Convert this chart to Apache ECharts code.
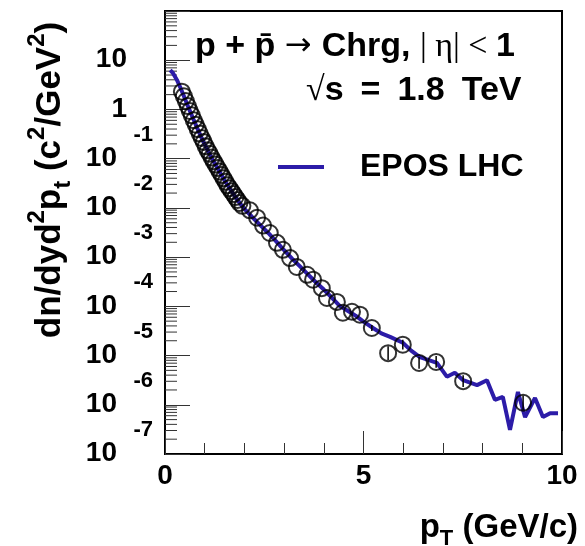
<!DOCTYPE html>
<html><head><meta charset="utf-8">
<script src="https://cdn.jsdelivr.net/npm/echarts@6/dist/echarts.min.js"></script>
<style>html,body{margin:0;padding:0;background:#fff}#c{width:585px;height:546px}</style>
</head><body><div id="c"></div>
<script>
// Data points (open circles): pT (GeV/c) and dn/dyd2pt
const pointsPt = [0.425,0.475,0.525,0.575,0.625,0.675,0.725,0.775,0.825,0.875,0.925,0.975,1.025,1.075,1.125,1.175,1.225,1.275,1.325,1.375,1.425,1.475,1.525,1.575,1.625,1.675,1.725,1.775,1.825,1.875,1.95,2.14,2.32,2.47,2.64,2.82,2.97,3.15,3.32,3.58,3.73,3.95,4.08,4.33,4.48,4.71,4.91,5.21,5.62,5.99,6.40,6.83,7.51,9.02];
const pointsVal = [2.29,1.86,1.48,1.17,0.933,0.759,0.603,0.490,0.398,0.324,0.263,0.219,0.178,0.148,0.126,0.105,0.0891,0.0759,0.0646,0.0550,0.0468,0.0398,0.0339,0.0288,0.0251,0.0219,0.0191,0.0166,0.0145,0.0126,0.0110,0.00891,0.00631,0.00437,0.00309,0.00195,0.00141,9.55e-4,6.31e-4,4.37e-4,3.47e-4,2.34e-4,1.48e-4,1.23e-4,7.41e-5,7.76e-5,6.76e-5,3.63e-5,1.12e-5,1.66e-5,7.08e-6,7.41e-6,3.02e-6,1.10e-6];
// Error bars on the high-pT points
const errPt = [5.21,5.62,5.99,6.40,6.83,7.51,9.02];
const errLo = [3.16e-5,8.1e-6,1.32e-5,5.37e-6,5.62e-6,2.29e-6,7.8e-7];
const errHi = [4.17e-5,1.55e-5,2.09e-5,9.33e-6,9.77e-6,3.98e-6,1.55e-6];
// EPOS LHC curve
const eposPt = [0.13,0.2,0.3,0.4,0.5,0.6,0.7,0.8,0.9,1.0,1.1,1.2,1.3,1.4,1.5,1.6,1.7,1.8,1.9,2.0,2.2,2.4,2.6,2.8,3.0,3.2,3.4,3.6,3.8,4.0,4.2,4.4,4.6,4.8,5.0,5.24,5.45,5.67,5.99,6.2,6.42,6.85,7.10,7.30,7.51,7.86,8.11,8.31,8.51,8.69,8.89,9.07,9.32,9.52,9.70,9.90];
const eposVal = [6.3,5.5,3.98,2.63,1.66,1.05,0.676,0.437,0.288,0.195,0.135,0.0955,0.0692,0.0501,0.0363,0.0269,0.0204,0.0155,0.0120,0.00955,0.00646,0.00447,0.00309,0.00209,0.00138,9.33e-4,6.46e-4,4.47e-4,3.09e-4,2.19e-4,1.51e-4,1.02e-4,8.13e-5,6.46e-5,4.90e-5,3.63e-5,2.82e-5,2.40e-5,1.82e-5,1.26e-5,9.33e-6,7.08e-6,3.72e-6,4.47e-6,3.16e-6,2.51e-6,3.16e-6,1.26e-6,1.45e-6,3.09e-7,1.82e-6,5.62e-7,1.38e-6,5.62e-7,6.76e-7,6.76e-7];
// Tick labels
const xTickLabels = ['0','5','10'];
const yTickPowers = [-7,-6,-5,-4,-3,-2,-1,0,1];
const yTickBase = ['10','10','10','10','10','10','10','1','10'];
const yTickExp = ['-7','-6','-5','-4','-3','-2','-1','',''];

const F = '"Liberation Sans", Arial, Helvetica, sans-serif';
const FS = '"Liberation Serif", "DejaVu Serif", serif';
const FD = '"DejaVu Sans", sans-serif';
const BLUE = '#2c1ca8';

// minor log ticks 2..9 x 10^n (axis decoration)
const minorTicks = [];
for (let n = -7; n <= 1; n++) for (let k = 2; k <= 9; k++) minorTicks.push([0, k * Math.pow(10, n)]);

const chart = echarts.init(document.getElementById('c'), null, {renderer: 'canvas'});
chart.setOption({
  animation: false,
  backgroundColor: '#fff',
  grid: {left: 165, right: 23, top: 11, bottom: 92, show: true, borderColor: '#000', borderWidth: 2, backgroundColor: 'transparent'},
  legend: {
    left: 278, top: 150, padding: 0, itemWidth: 46, itemHeight: 4, icon: 'rect',
    data: [{name: 'EPOS LHC'}],
    textStyle: {fontFamily: F, fontWeight: 'bold', fontSize: 32, color: '#000', padding: [0, 0, 0, 31], lineHeight: 34}
  },
  xAxis: {
    type: 'value', min: 0, max: 10, interval: 5,
    axisLine: {show: false},
    axisTick: {inside: true, length: 23, lineStyle: {color: '#333', width: 1}},
    minorTick: {show: true, splitNumber: 5, length: 11, lineStyle: {color: '#333', width: 1}},
    splitLine: {show: false}, minorSplitLine: {show: false},
    axisLabel: {
      margin: 8, color: '#000', fontFamily: F, fontWeight: 'bold', fontSize: 28,
      formatter: v => { const i = [0,5,10].indexOf(Math.round(v)); return i >= 0 ? xTickLabels[i] : ''; }
    }
  },
  yAxis: {
    type: 'log', logBase: 10, min: 1e-7, max: 100, splitNumber: 9,
    axisLine: {show: false},
    axisTick: {inside: true, length: 25, lineStyle: {color: '#333', width: 1}},
    minorTick: {show: false}, splitLine: {show: false},
    axisLabel: {
      margin: 12, color: '#000', fontFamily: F, fontWeight: 'bold',
      showMinLabel: true, showMaxLabel: true, verticalAlign: 'bottom',
      formatter: v => {
        const p = Math.round(Math.log10(v));
        const i = yTickPowers.indexOf(p);
        if (i < 0) return '';
        if (yTickExp[i] === '') return '{p|' + yTickBase[i] + '}';
        return '{e|' + yTickExp[i] + '}\n{b|' + yTickBase[i] + '}';
      },
      rich: {
        p: {fontFamily: F, fontWeight: 'bold', fontSize: 28, lineHeight: 1, padding: [0, 26, 0, 0]},
        e: {fontFamily: F, fontWeight: 'bold', fontSize: 22, lineHeight: 46},
        b: {fontFamily: F, fontWeight: 'bold', fontSize: 28, lineHeight: 1, padding: [0, 36, 0, 0]}
      }
    }
  },
  series: [
    {
      type: 'custom', silent: true, clip: false, z: 1,
      data: minorTicks,
      renderItem: (params, api) => {
        const p = api.coord([0, api.value(1)]);
        return {type: 'line', shape: {x1: p[0], y1: p[1], x2: p[0] + 12, y2: p[1]}, style: {stroke: '#333', lineWidth: 1}};
      }
    },
    {
      name: 'EPOS LHC', type: 'line', z: 2,
      data: eposPt.map((x, i) => [x, eposVal[i]]),
      showSymbol: false, symbol: 'none',
      lineStyle: {color: BLUE, width: 4}, itemStyle: {color: BLUE}
    },
    {
      type: 'custom', silent: true, z: 3,
      data: errPt.map((x, i) => [x, errLo[i], errHi[i]]),
      renderItem: (params, api) => {
        const a = api.coord([api.value(0), api.value(1)]);
        const b = api.coord([api.value(0), api.value(2)]);
        return {type: 'line', shape: {x1: a[0], y1: a[1], x2: b[0], y2: b[1]}, style: {stroke: '#000', lineWidth: 1.5}};
      }
    },
    {
      name: 'data', type: 'scatter', z: 4,
      data: pointsPt.map((x, i) => [x, pointsVal[i]]),
      symbol: 'circle', symbolSize: 16,
      itemStyle: {color: 'rgba(0,0,0,0)', borderColor: '#000', borderWidth: 2}
    }
  ],
  graphic: [
    {
      type: 'text', x: 195, y: 47,
      style: {
        text: '{b|p + p\u0304 }{a|\u2192 }{b|Chrg, }{n|| \u03b7| < }{b|1}',
        align: 'left', verticalAlign: 'middle',
        rich: {
          b: {fontFamily: F, fontWeight: 'bold', fontSize: 34, fill: '#000'},
          a: {fontFamily: FD, fontSize: 32, fill: '#000'},
          n: {fontFamily: FS, fontSize: 34, fill: '#000'}
        }
      }
    },
    {
      type: 'text', x: 306, y: 91,
      style: {
        text: '{n|\u221a}{b|s\u2002=\u20021.8\u2002TeV}',
        align: 'left', verticalAlign: 'middle',
        rich: {
          b: {fontFamily: F, fontWeight: 'bold', fontSize: 34, fill: '#000'},
          n: {fontFamily: FS, fontSize: 34, fill: '#000'}
        }
      }
    },
    {
      type: 'text', x: 50, y: 180, rotation: Math.PI / 2,
      style: {
        text: '{b|dn/dyd}{sp|2}{b|p}{sb|t}{b| (c}{sp|2}{b|/GeV}{sp|2}{b|)}',
        align: 'center', verticalAlign: 'middle',
        rich: {
          b: {fontFamily: F, fontWeight: 'bold', fontSize: 35, lineHeight: 50, fill: '#000'},
          sp: {fontFamily: F, fontWeight: 'bold', fontSize: 24, verticalAlign: 'top', fill: '#000'},
          sb: {fontFamily: F, fontWeight: 'bold', fontSize: 24, verticalAlign: 'bottom', fill: '#000'}
        }
      }
    },
    {
      type: 'text', x: 578, y: 528,
      style: {
        text: '{b|p}{sb|T}{b| (GeV/c)}',
        align: 'right', verticalAlign: 'middle',
        rich: {
          b: {fontFamily: F, fontWeight: 'bold', fontSize: 33, lineHeight: 44, fill: '#000'},
          sb: {fontFamily: F, fontWeight: 'bold', fontSize: 22, verticalAlign: 'bottom', fill: '#000'}
        }
      }
    }
  ]
});
</script>
</body></html>
